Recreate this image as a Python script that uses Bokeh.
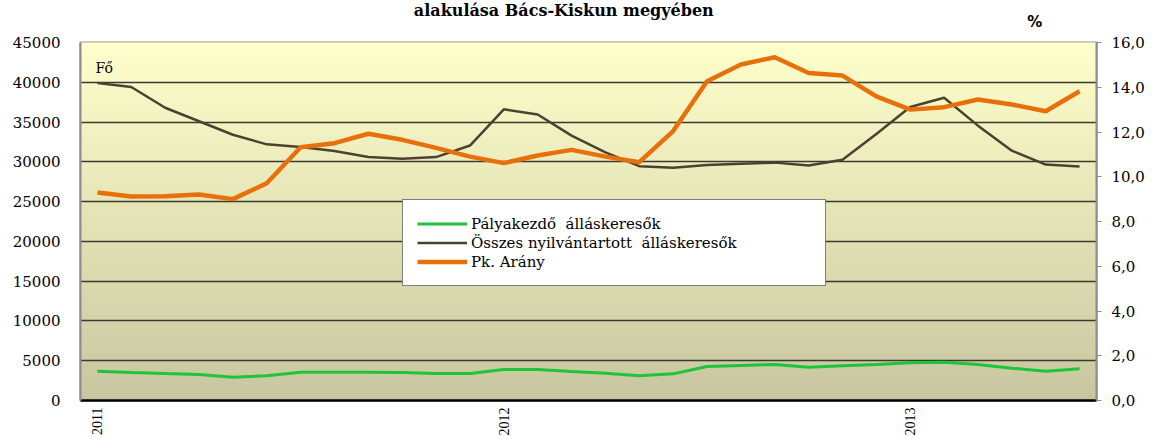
import math
import numpy as np
from bokeh.plotting import figure
from bokeh.layouts import column
from bokeh.models import (Range1d, LinearAxis, FixedTicker, Legend, LegendItem, Label,
                          CustomJSTickFormatter, NumeralTickFormatter)
from bokeh.embed import file_html
from bokeh.resources import INLINE

# ---- data (monthly, Jan 2011 - Jun 2013) ----
months = list(range(30))
year_ticks = [0, 12, 24]
year_labels = ["2011", "2012", "2013"]
palyakezdo = [3680, 3520, 3390, 3270, 2930, 3100, 3560, 3560, 3560, 3520,
              3390, 3390, 3900, 3900, 3650, 3440, 3100, 3350, 4270, 4400,
              4530, 4190, 4360, 4530, 4730, 4820, 4530, 4060, 3680, 3980]
osszes = [39900, 39400, 36800, 35100, 33400, 32200, 31850, 31350, 30600, 30400,
          30600, 32050, 36600, 35950, 33300, 31200, 29450, 29250, 29600, 29750,
          29900, 29550, 30250, 33500, 36900, 38050, 34550, 31400, 29650, 29400]
pk_arany = [9.30, 9.12, 9.13, 9.21, 9.00, 9.71, 11.32, 11.50, 11.92, 11.65,
            11.29, 10.90, 10.61, 10.95, 11.20, 10.90, 10.65, 12.04, 14.27, 15.02,
            15.34, 14.64, 14.52, 13.59, 13.00, 13.11, 13.45, 13.23, 12.93, 13.82]
left_ticks = list(range(0, 45001, 5000))
right_ticks = [0, 2, 4, 6, 8, 10, 12, 14, 16]
title_text = "alakulása Bács-Kiskun megyében"

SERIF = "DejaVu Serif"

# ---- header strip (title and "%" unit) ----
ph = figure(width=1152, height=30, output_backend="svg", toolbar_location=None,
            x_range=Range1d(0, 1152), y_range=Range1d(0, 30), min_border=0)
ph.axis.visible = False
ph.grid.visible = False
ph.outline_line_color = None
ph.background_fill_color = "white"
ph.border_fill_color = "white"
ph.add_layout(Label(x=548, y=20, text=title_text, text_font=SERIF, text_font_size="16px",
                    text_font_style="bold", text_baseline="middle", text_align="center",
                    text_color="black"))
ph.add_layout(Label(x=1082, y=9, text="%", text_font="DejaVu Sans", text_font_size="15px",
                    text_font_style="bold", text_baseline="middle", text_align="center",
                    text_color="black"))

# ---- main chart ----
p = figure(width=1152, height=409, output_backend="svg", toolbar_location=None,
           x_range=Range1d(-0.5, 29.5), y_range=Range1d(0, 45000),
           min_border_left=80, min_border_right=56, min_border_top=12, min_border_bottom=39)
p.extra_y_ranges = {"pct": Range1d(0, 16)}
p.border_fill_color = "white"
p.outline_line_color = "#8c8c8c"
p.outline_line_width = 2

# background gradient (decoration)
n = 90
edges = np.linspace(0, 45000, n + 1)
top_c = np.array([255, 255, 204])
bot_c = np.array([199, 198, 160])
frac = (edges[:-1] + edges[1:]) / 2 / 45000
cols = ["#%02x%02x%02x" % tuple(int(round(v)) for v in bot_c + (top_c - bot_c) * f) for f in frac]
bg = p.quad(left=-0.5, right=29.5, bottom=edges[:-1], top=edges[1:],
            fill_color=cols, line_color=cols, line_width=1)
bg.level = "image"

# grid
p.xgrid.grid_line_color = None
p.ygrid.ticker = FixedTicker(ticks=left_ticks[1:-1])
p.ygrid.grid_line_color = "#3a3a2e"
p.ygrid.grid_line_width = 1.5

# lines
r_green = p.line(months, palyakezdo, line_color="#1ec43c", line_width=3)
r_brown = p.line(months, osszes, line_color="#4a4230", line_width=2.5)
r_orange = p.line(months, pk_arany, line_color="#e8700c", line_width=4.5, y_range_name="pct")

# left axis
ya = p.yaxis[0]
ya.ticker = FixedTicker(ticks=left_ticks)
ya.formatter = NumeralTickFormatter(format="0")
ya.axis_line_color = "#8c8c8c"
ya.axis_line_width = 2
ya.major_tick_line_color = None
ya.minor_tick_line_color = None
ya.major_label_standoff = 14
ya.major_label_text_font = SERIF
ya.major_label_text_font_size = "15px"
ya.major_label_text_color = "black"

# right axis
ra = LinearAxis(y_range_name="pct", ticker=FixedTicker(ticks=right_ticks),
                formatter=CustomJSTickFormatter(code="return tick.toFixed(1).replace('.', ',');"))
ra.axis_line_color = "#8c8c8c"
ra.axis_line_width = 2
ra.major_tick_line_color = "#8c8c8c"
ra.major_tick_out = 5
ra.major_tick_in = 0
ra.minor_tick_line_color = None
ra.major_label_standoff = 10
ra.major_label_text_font = SERIF
ra.major_label_text_font_size = "15px"
ra.major_label_text_color = "black"
p.add_layout(ra, "right")

# x axis
xa = p.xaxis[0]
xa.ticker = FixedTicker(ticks=year_ticks)
xa.major_label_overrides = {t: l for t, l in zip(year_ticks, year_labels)}
xa.major_label_orientation = math.pi / 2
xa.axis_line_color = "black"
xa.axis_line_width = 2.5
xa.major_tick_line_color = None
xa.minor_tick_line_color = None
xa.major_label_standoff = 1
xa.major_label_text_font = "Liberation Serif"
xa.major_label_text_font_size = "14px"
xa.major_label_text_color = "black"

# legend
legend = Legend(items=[
    LegendItem(label="Pályakezdő  álláskeresők", renderers=[r_green]),
    LegendItem(label="Összes nyilvántartott  álláskeresők", renderers=[r_brown]),
    LegendItem(label="Pk. Arány", renderers=[r_orange]),
], location=(322, 114), orientation="vertical")
legend.margin = 0
legend.padding = 14
legend.spacing = 0
legend.glyph_width = 50
legend.glyph_height = 19
legend.label_height = 19
legend.label_standoff = 4
legend.label_width = 340
legend.label_text_font = SERIF
legend.label_text_font_size = "15px"
legend.label_text_color = "black"
legend.border_line_color = "black"
legend.border_line_width = 1.5
legend.background_fill_color = "white"
legend.background_fill_alpha = 1.0
p.add_layout(legend)

p.add_layout(Label(x=15, y=333, x_units="screen", y_units="screen", text="Fő",
                   text_font=SERIF, text_font_size="14px", text_baseline="middle",
                   text_align="left", text_color="black"))

layout = column(ph, p, spacing=0)
open("out.html", "w").write(file_html(layout, INLINE))
